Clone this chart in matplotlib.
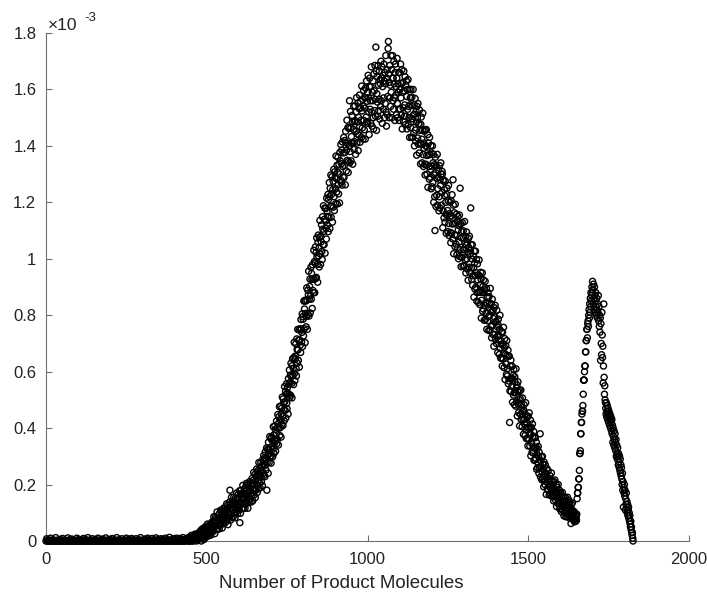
import numpy as np
import matplotlib
matplotlib.use("Agg")
import matplotlib.pyplot as plt

plt.rcParams['font.family'] = ['Liberation Sans', 'DejaVu Sans']

# Values in units of 1e-3
flat_start, flat_step = 0, 2
y_flat = [
    0,0.008,0,0,0.004,0,0,0.01,0,0,0,0.005,0,0,0,0.012,0,0,0.003,0,
    0,0,0.006,0,0,0,0.009,0,0,0.004,0,0,0,0,0.011,0,0,0.005,0,0,
    0.007,0,0,0,0.003,0,0,0,0.01,0,0,0.006,0,0,0,0,0.004,0,0.009,0,
    0,0,0.005,0,0,0.012,0,0,0,0.004,0,0,0.008,0,0,0,0,0.006,0,0,
    0,0.01,0,0,0,0.005,0,0,0.007,0,0,0,0,0.011,0,0,0.004,0,0,0,
    0.006,0,0,0.009,0,0,0,0.004,0,0,0.012,0,0,0,0.005,0,0,0,0.008,0,
    0,0,0.004,0,0,0.01,0,0,0,0.006,0,0,0,0.009,0,0,0.005,0,0,0,
    0.008,0,0,0,0.005,0,0,0.012,0,0,0,0.004,0,0,0.007,0,0,0,0.01,0,
    0,0.005,0,0,0,0.009,0,0,0.004,0,0,0.011,0,0,0,0.006,0,0,0,0.008,
    0,0,0.006,0,0,0,0.01,0,0,0.005,0,0,0.013,0,0,0.004,0,0,0.008,0,
    0.005,0,0,0.01,0,0,0.004,0,0.009,0,0,0.006,0,0.012,0,0,0.005,0,0.008,0.003,
]

rise_start, rise_step = 440, 1
y_rise = [
    0.004,0,0.012,0.005,0,0,0.01,0.014,0.002,0.006, 0,0.011,0.02,0.003,0,0.01,0.008,0.016,0.004,0,
    0.02,0.014,0.006,0.024,0.01,0.004,0.017,0.022,0,0.014, 0.02,0.012,0.007,0.028,0.019,0.01,0.015,0.026,0.008,0.022,
    0.008,0.037,0.025,0.0,0.032,0.018,0.043,0.009,0.026,0.017, 0.042,0.005,0.032,0.039,0.018,0.05,0.025,0.014,0.047,0.041,
    0.032,0.019,0.06,0.041,0.028,0.05,0.018,0.046,0.058,0.035, 0.028,0.053,0.046,0.021,0.062,0.055,0.04,0.068,0.038,0.054,
    0.067,0.035,0.086,0.063,0.05,0.026,0.075,0.085,0.056,0.066, 0.041,0.081,0.103,0.056,0.041,0.079,0.071,0.093,0.054,0.043,
    0.098,0.08,0.061,0.109,0.075,0.058,0.092,0.108,0.046,0.086, 0.102,0.076,0.062,0.117,0.097,0.071,0.085,0.115,0.065,0.108,
    0.102,0.075,0.132,0.084,0.113,0.127,0.058,0.103,0.12,0.079, 0.095,0.138,0.18,0.073,0.13,0.092,0.118,0.155,0.085,0.11,
    0.129,0.141,0.085,0.11,0.155,0.099,0.138,0.13,0.082,0.152, 0.111,0.129,0.103,0.17,0.125,0.153,0.097,0.145,0.166,0.118,
    0.153,0.11,0.178,0.065,0.129,0.098,0.167,0.18,0.137,0.149, 0.115,0.168,0.197,0.136,0.117,0.165,0.153,0.183,0.131,0.116,
    0.189,0.166,0.14,0.204,0.157,0.134,0.178,0.2,0.116,0.17, 0.191,0.156,0.138,0.21,0.182,0.149,0.165,0.205,0.138,0.195,
    0.158,0.222,0.198,0.142,0.215,0.181,0.243,0.163,0.2,0.18, 0.236,0.154,0.213,0.229,0.181,0.255,0.198,0.172,0.248,0.236,
    0.215,0.186,0.278,0.235,0.206,0.258,0.188,0.248,0.278,0.226, 0.21,0.266,0.25,0.196,0.288,0.273,0.24,0.303,0.233,0.269,
    0.295,0.228,0.315,0.269,0.251,0.292,0.33,0.18,0.279,0.325, 0.303,0.24,0.35,0.325,0.278,0.31,0.37,0.3,0.33,0.363,
    0.276,0.302,0.368,0.335,0.355,0.298,0.325,0.405,0.375,0.311, 0.359,0.347,0.408,0.395,0.318,0.355,0.382,0.425,0.345,0.4,
    0.36,0.448,0.415,0.34,0.44,0.4,0.476,0.374,0.43,0.402, 0.478,0.368,0.45,0.47,0.413,0.51,0.44,0.409,0.504,0.49,
    0.464,0.426,0.547,0.494,0.463,0.53,0.436,0.52,0.557,0.489, 0.468,0.544,0.524,0.45,0.575,0.555,0.52,0.606,0.509,0.562,
    0.588,0.516,0.63,0.583,0.558,0.507,0.621,0.646,0.586,0.612, 0.554,0.65,0.704,0.594,0.568,0.655,0.645,0.699,0.611,0.585,
    0.716,0.679,0.63,0.75,0.677,0.64,0.712,0.748,0.616,0.712, 0.752,0.694,0.668,0.785,0.751,0.706,0.739,0.805,0.689,0.795,
    0.786,0.727,0.85,0.752,0.822,0.853,0.703,0.806,0.85,0.759, 0.796,0.897,0.854,0.75,0.889,0.803,0.872,0.956,0.797,0.857,
    0.902,0.928,0.808,0.869,0.97,0.857,0.948,0.927,0.824,0.979, 0.888,0.93,0.88,1.03,0.927,0.99,0.88,0.985,1.042,0.93,
    1.022,0.934,1.074,1.006,0.98,0.917,1.058,1.084,1.01,1.038, 0.971,1.075,1.136,1.017,0.98,1.08,1.06,1.12,1.026,0.997,
    1.149,1.105,1.05,1.188,1.097,1.05,1.14,1.18,1.02,1.133, 1.178,1.108,1.07,1.215,1.168,1.118,1.15,1.228,1.096,1.21,
    1.148,1.27,1.22,1.107,1.25,1.186,1.297,1.147,1.228,1.186, 1.291,1.13,1.245,1.275,1.183,1.317,1.22,1.171,1.308,1.288,
    1.249,1.195,1.364,1.284,1.236,1.331,1.194,1.307,1.36,1.262, 1.23,1.335,1.3,1.198,1.377,1.347,1.28,1.405,1.27,1.337,
    1.385,1.261,1.414,1.327,1.29,1.375,1.43,1.288,1.331,1.419, 1.377,1.262,1.452,1.412,1.311,1.385,1.491,1.349,1.409,1.465,
    1.306,1.345,1.462,1.4,1.56,1.34,1.38,1.522,1.464,1.347, 1.433,1.409,1.508,1.485,1.335,1.411,1.458,1.54,1.387,1.486,
]

top_start, top_step = 960, 1
y_top = [
    1.415,1.542,1.489,1.37,1.52,1.452,1.571,1.41,1.485,1.442, 1.552,1.383,1.501,1.533,1.438,1.58,1.467,1.413,1.558,1.534,
    1.491,1.43,1.612,1.524,1.464,1.565,1.424,1.541,1.597,1.49, 1.457,1.571,1.534,1.424,1.605,1.571,1.502,1.63,1.486,1.558,
    1.59,1.48,1.65,1.57,1.52,1.44,1.61,1.64,1.53,1.56, 1.48,1.61,1.68,1.52,1.47,1.59,1.56,1.63,1.5,1.46,
    1.655,1.595,1.525,1.685,1.565,1.505,1.75,1.665,1.455,1.585, 1.645,1.555,1.505,1.685,1.615,1.525,1.565,1.665,1.495,1.635,
    1.62,1.54,1.7,1.56,1.64,1.68,1.48,1.61,1.65,1.53, 1.57,1.69,1.63,1.5,1.66,1.55,1.62,1.72,1.52,1.47,
    1.64,1.67,1.51,1.575,1.745,1.77,1.655,1.625,1.5,1.685, 1.57,1.615,1.54,1.72,1.59,1.67,1.5,1.64,1.72,1.56,
    1.64,1.53,1.7,1.62,1.57,1.49,1.66,1.69,1.58,1.61, 1.51,1.64,1.71,1.55,1.5,1.62,1.59,1.66,1.53,1.49,
    1.66,1.6,1.53,1.69,1.57,1.51,1.62,1.67,1.46,1.59, 1.625,1.535,1.485,1.665,1.595,1.505,1.545,1.645,1.475,1.615,
    1.505,1.63,1.575,1.46,1.6,1.53,1.635,1.475,1.54,1.5, 1.6,1.43,1.545,1.57,1.465,1.6,1.485,1.43,1.573,1.543,
    1.496,1.43,1.6,1.51,1.445,1.546,1.4,1.512,1.568,1.456, 1.417,1.522,1.484,1.367,1.54,1.5,1.428,1.55,1.406,1.478,
]

fall_start, fall_step = 1160, 1
y_fall = [
    1.476,1.375,1.527,1.455,1.41,1.336,1.476,1.502,1.405,1.424, 1.34,1.455,1.516,1.369,1.327,1.41,1.392,1.452,1.334,1.297,
    1.456,1.4,1.335,1.458,1.366,1.3,1.396,1.44,1.253,1.367, 1.41,1.327,1.282,1.43,1.37,1.289,1.317,1.401,1.248,1.375,
    1.328,1.255,1.4,1.27,1.34,1.37,1.2,1.297,1.333,1.22, 1.10,1.36,1.305,1.185,1.33,1.225,1.285,1.37,1.19,1.248,
    1.29,1.315,1.17,1.22,1.33,1.18,1.28,1.26,1.34,1.3, 1.19,1.235,1.31,1.3,1.11,1.17,1.28,1.275,1.145,1.245,
    1.224,1.13,1.275,1.2,1.158,1.09,1.228,1.25,1.154,1.171, 1.096,1.205,1.26,1.125,1.082,1.16,1.148,1.2,1.093,1.057,
    1.206,1.152,1.09,1.227,1.123,1.07,1.28,1.19,1.018,1.124, 1.163,1.085,1.043,1.193,1.127,1.052,1.083,1.158,1.014,1.133,
    1.04,1.15,1.102,1.0,1.118,1.06,1.155,1.008,1.25,1.032, 1.124,0.972,1.074,1.096,1.005,1.128,1.021,0.974,1.099,1.074,
    1.032,0.976,1.132,1.054,0.996,1.078,0.95,1.048,1.095,1.0, 0.964,1.056,1.024,0.924,1.072,1.04,0.97,1.08,0.952,1.016,
    1.03,1.18,1.05,0.968,0.927,0.999,1.05,0.906,0.94,1.01, 0.968,0.864,1.027,0.985,0.893,0.941,1.027,0.899,0.951,0.998,
    0.85,0.88,0.982,0.925,0.943,0.845,0.882,0.996,0.94,0.838, 0.908,0.882,0.952,0.928,0.79,0.853,0.881,0.95,0.814,0.902,
    0.822,0.925,0.88,0.782,0.89,0.835,0.92,0.785,0.845,0.808, 0.895,0.75,0.843,0.865,0.78,0.88,0.795,0.746,0.866,0.843,
    0.8,0.748,0.895,0.818,0.76,0.84,0.72,0.812,0.857,0.764, 0.732,0.818,0.788,0.69,0.827,0.794,0.732,0.835,0.715,0.775,
    0.778,0.7,0.818,0.76,0.725,0.668,0.766,0.786,0.712,0.727, 0.661,0.75,0.8,0.683,0.648,0.71,0.697,0.741,0.648,0.62,
    0.74,0.695,0.645,0.757,0.664,0.614,0.685,0.717,0.572,0.661, 0.692,0.627,0.59,0.71,0.658,0.585,0.611,0.676,0.557,0.655,
    0.567,0.655,0.42,0.532,0.62,0.574,0.641,0.53,0.577,0.548, 0.619,0.492,0.574,0.587,0.517,0.608,0.525,0.483,0.582,0.563,
    0.527,0.478,0.61,0.542,0.494,0.553,0.443,0.531,0.564,0.485, 0.455,0.529,0.5,0.408,0.534,0.505,0.449,0.535,0.431,0.483,
    0.473,0.405,0.507,0.458,0.43,0.378,0.464,0.483,0.416,0.431, 0.374,0.449,0.49,0.394,0.363,0.42,0.402,0.44,0.363,0.337,
    0.442,0.403,0.36,0.454,0.38,0.337,0.4,0.428,0.302,0.377, 0.402,0.345,0.315,0.415,0.37,0.312,0.33,0.388,0.286,0.37,
    0.33,0.288,0.366,0.294,0.331,0.35,0.254,0.307,0.327,0.26, 0.277,0.335,0.301,0.24,0.315,0.26,0.287,0.38,0.227,0.263,
    0.284,0.298,0.217,0.245,0.3,0.22,0.271,0.254,0.192,0.28, 0.217,0.24,0.2,0.27,0.211,0.24,0.165,0.228,0.257,0.185,
    0.226,0.181,0.249,0.215,0.195,0.163,0.219,0.232,0.19,0.2, 0.164,0.214,0.241,0.178,0.158,0.19,0.186,0.211,0.16,0.142,
    0.21,0.186,0.157,0.216,0.17,0.145,0.18,0.2,0.122,0.172, 0.19,0.152,0.133,0.2,0.17,0.134,0.145,0.18,0.114,0.17,
    0.122,0.171,0.149,0.104,0.157,0.128,0.172,0.109,0.137,0.121, 0.155,0.089,0.13,0.14,0.1,0.155,0.11,0.086,0.142,0.132,
    0.112,0.086,0.155,0.118,0.093,0.13,0.145,0.115,0.136,0.095, 0.08,0.12,0.107,0.062,0.13,0.112,0.087,0.135,0.078,0.102,
]

second_start, second_step = 1640, 1
y_second = [
    0.09,0.075,0.105,0.082,0.068,0.1,0.078,0.092,0.07,0.086,0.074,0.095,
    0.15,0.17,0.17,0.19,0.19,0.22,0.22,0.25,0.31,0.31,0.32,0.38,0.38,0.42,0.42,0.45,0.46,0.46,0.48,0.52,
    0.57,0.57,0.57,0.6,0.62,0.62,0.67,0.67,0.71,0.71,0.75,0.75,0.72,0.77,0.78,0.76,0.8,0.82,0.79,0.84,
    0.81,0.86,0.83,0.88,0.85,0.87,0.9,0.88,0.92,
    0.89,0.84,0.91,0.86,0.82,0.9,0.87,0.81,0.85,0.88, 0.83,0.8,0.86,0.82,0.79,0.84,0.81,0.87,0.78,0.83,
    0.76,0.8,0.74,0.79,0.64,0.77,0.7,0.66,0.81,0.73, 0.65,0.69,0.56,0.62,0.84,0.58,0.52,0.55,0.5,0.49,
    0.47,0.45,0.49,0.44,0.46,0.48,0.43,0.47,0.45,0.42, 0.46,0.44,0.41,0.45,0.43,0.4,0.44,0.42,0.39,0.43,
    0.38,0.41,0.35,0.4,0.37,0.34,0.39,0.36,0.33,0.38, 0.35,0.32,0.36,0.3,0.34,0.31,0.29,0.33,0.3,0.27,
    0.31,0.28,0.26,0.3,0.25,0.29,0.24,0.27,0.23,0.26, 0.22,0.2,0.24,0.18,0.21,0.12,0.19,0.17,0.2,0.16,
    0.18,0.11,0.15,0.13,0.17,0.12,0.14,0.1,0.13,0.09, 0.11,0.12,0.08,0.1,0.07,0.09,0.06,0.05,0.07,0.04,
    0.05,0.03,0.02,0.03,0.01,0.0,
]

x_ticks = [0, 500, 1000, 1500, 2000]
y_ticks = [0, 0.2, 0.4, 0.6, 0.8, 1.0, 1.2, 1.4, 1.6, 1.8]
x_label = "Number of Product Molecules"

segments = [(flat_start, flat_step, y_flat), (rise_start, rise_step, y_rise),
            (top_start, top_step, y_top), (fall_start, fall_step, y_fall),
            (second_start, second_step, y_second)]
xs, ys = [], []
for start, stp, yv in segments:
    xs.append(start + stp * np.arange(len(yv)))
    ys.append(np.asarray(yv, dtype=float))
x = np.concatenate(xs)
y = np.concatenate(ys)

fig = plt.figure(figsize=(7.07, 5.96), dpi=100)
ax = fig.add_axes([46/707, 55/596, (689-46)/707, (541-33)/596])

ax.scatter(x, y, s=19, facecolors='none', edgecolors='black', linewidths=1.0,
           clip_on=False, zorder=3)

ax.set_xlim(0, 2000)
ax.set_ylim(0, 1.8)
ax.set_xticks(x_ticks)
ax.set_yticks(y_ticks)
ax.set_xticklabels([f"{v:g}" for v in x_ticks])
ax.set_yticklabels([f"{v:g}" for v in y_ticks])
for s in ['top', 'right']:
    ax.spines[s].set_visible(False)
for s in ['left', 'bottom']:
    ax.spines[s].set_color('#6e6e6e')
    ax.spines[s].set_linewidth(0.8)
ax.tick_params(direction='in', length=4, width=0.8, color='#6e6e6e',
               labelsize=12, labelcolor='#222222')
ax.tick_params(axis='x', pad=8)
ax.tick_params(axis='y', pad=7)
ax.set_xlabel(x_label, fontsize=13.4, color='#222222')
ax.xaxis.set_label_coords((341-46)/643, -42/508)
ax.xaxis.label.set_verticalalignment('center')

fig.text(48/707, 1 - 30/596, "\u00d710", fontsize=12.5, color='#222222', va='baseline', ha='left')
fig.text(84/707, 1 - 21/596, "-3", fontsize=9.5, color='#222222', va='baseline', ha='left')

fig.savefig("out.png", dpi=100)
